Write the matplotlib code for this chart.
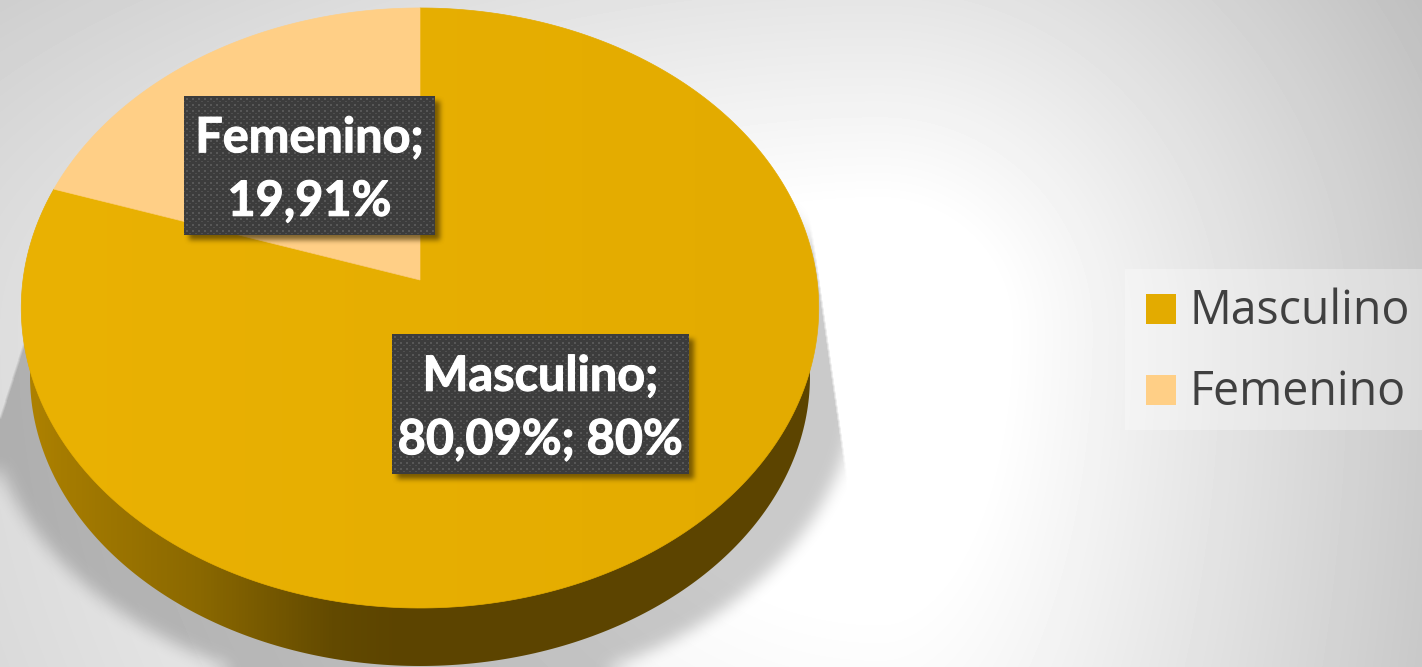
import numpy as np
import matplotlib
matplotlib.use("Agg")
import matplotlib.pyplot as plt
import matplotlib.patheffects as pe
from matplotlib.colors import LinearSegmentedColormap
from matplotlib.patches import Polygon, Rectangle

W, H = 1422, 667

categories = ["Masculino", "Femenino"]
values = [80.09, 19.91]
colors = ["#e3ab00", "#ffcf86"]
label_texts = ["Masculino;\n80,09%; 80%", "Femenino;\n19,91%"]


def blur(img, r, passes=3):
    # repeated box blur, scipy is not available
    k = np.ones(2 * r + 1) / (2 * r + 1)
    for _ in range(passes):
        img = np.apply_along_axis(lambda v: np.convolve(np.pad(v, r, mode="edge"), k, mode="valid"), 0, img)
        img = np.apply_along_axis(lambda v: np.convolve(np.pad(v, r, mode="edge"), k, mode="valid"), 1, img)
    return img


def project(theta):
    # tilted disc: theta is clockwise from the top, perspective keeps the apex above the ellipse centre
    x, y = np.sin(theta), np.cos(theta)
    w = 1 + 0.0933 * y
    return 420 + 397 * x / w, 280 - 297.4 * y / w


def shaded(extent, rgba, z):
    return ax.imshow(rgba, extent=extent, aspect="auto", zorder=z, interpolation="bilinear")


fig = plt.figure(figsize=(W / 100, H / 100), dpi=100)
ax = fig.add_axes([0, 0, 1, 1])
ax.axis("off")

# background, falls off faster to the right and the top
yy, xx = np.mgrid[0:H, 0:W] + 0.5
dx = (xx - 880) * np.where(xx > 880, 1.0, 0.45)
dy = (yy - 330) * np.where(yy > 330, 0.45, 1.0)
r = np.hypot(dx, dy)
bg = 1 - np.clip(r - 125, 0, None) * 0.125 / 255
ax.imshow(bg, cmap="gray", vmin=0, vmax=1, extent=(0, W, H, 0), aspect="auto", zorder=0)

# shadow under the disc
ell = (((xx - 420) / 436) ** 2 + ((yy - 382) / 316) ** 2 < 1).astype(float)
ell = blur(ell, 7)
left_edge = 38 - (yy - 300) * 38 / 120
right_edge = 810 + (yy - 220) * 37 / 260
side = ((xx > left_edge) & (xx < right_edge) & (yy > 200)).astype(float)
side = blur(side, 1, 1)
shadow = np.zeros((H, W, 4))
shadow[..., 3] = ell * side * 0.21
shaded((0, W, H, 0), shadow, 1)

# side wall
t = np.linspace(0, 2 * np.pi, 400)
wall = Polygon(np.c_[420 + 390 * np.sin(t), 376 + 290 * np.cos(t)], transform=ax.transData, fc="none", ec="none")
ax.add_patch(wall)
wall_cmap = LinearSegmentedColormap.from_list(
    "wall", [(0, "#b08300"), (0.05, "#a67c00"), (0.225, "#8a6800"), (0.39, "#634a00"), (0.475, "#5c4400"), (1, "#5c4400")]
)
im = ax.imshow(np.linspace(0, 1, 256)[None, :], cmap=wall_cmap, extent=(20, 820, 670, 200), aspect="auto", zorder=2)
im.set_clip_path(wall)

# top of the pie
edges = np.cumsum([0] + values) / sum(values) * 2 * np.pi
for i in range(len(values)):
    th = np.linspace(edges[i], edges[i + 1], 300)
    px, py = project(th)
    ax.fill(np.r_[420, px], np.r_[280, py], color=colors[i], lw=0.5, zorder=3)

# faint light on the left of the big slice
th = np.linspace(edges[0], edges[1], 300)
px, py = project(th)
mask_poly = Polygon(np.c_[np.r_[420, px], np.r_[280, py]], transform=ax.transData, fc="none", ec="none")
ax.add_patch(mask_poly)
light = np.zeros((1, 256, 4))
light[..., 0], light[..., 1], light[..., 2] = 1.0, 0.78, 0.05
light[0, :, 3] = np.linspace(0.25, 0, 256)
im = ax.imshow(light, extent=(20, 820, 620, 0), aspect="auto", zorder=3.1)
im.set_clip_path(mask_poly)

# data labels
boxes = [(392, 334, 297, 140), (184, 96, 251, 139)]
for (bx, by, bw, bh), txt in zip(boxes, label_texts):
    s = np.zeros((H, W))
    s[by + 5:by + bh + 5, bx + 5:bx + bw + 5] = 1
    s = blur(s, 2)
    sh = np.zeros((H, W, 4))
    sh[..., 0], sh[..., 1], sh[..., 2] = 0.25, 0.18, 0.0
    sh[..., 3] = s * 0.65
    shaded((0, W, H, 0), sh, 4)

    tex = np.full((bh, bw), 0.235)
    tex[2::6, 2::6] = 0.34
    tex[2::6, 3::6] = 0.34
    tex[3::6, 2::6] = 0.34
    tex[3::6, 3::6] = 0.34
    tex[5::6, 5::6] = 0.31
    tex[5::6, 0::6] = 0.31
    ax.imshow(tex, cmap="gray", vmin=0, vmax=1, extent=(bx, bx + bw, by + bh, by), aspect="auto",
              zorder=5, interpolation="nearest")
    t_ = ax.text(bx + bw / 2, by + bh / 2 + 4, txt, color="white", fontsize=35, fontweight="bold", family="Lato",
                 ha="center", va="center", linespacing=1.5, zorder=6)
    t_.set_path_effects([pe.withStroke(linewidth=0.8, foreground="white")])

# legend
ax.add_patch(Rectangle((1125, 269), 297, 161, fc="white", alpha=0.3, ec="none", zorder=2))
for name, col, sy in zip(categories, colors, [294, 375]):
    ax.add_patch(Rectangle((1146, sy), 30, 30, fc=col, ec="none", zorder=3))
    ax.text(1190, sy + 17, name, color="#404040", fontsize=33.5, family="Open Sans", ha="left", va="center", zorder=3)

ax.set_xlim(0, W)
ax.set_ylim(H, 0)
fig.savefig("out.png", dpi=100)
